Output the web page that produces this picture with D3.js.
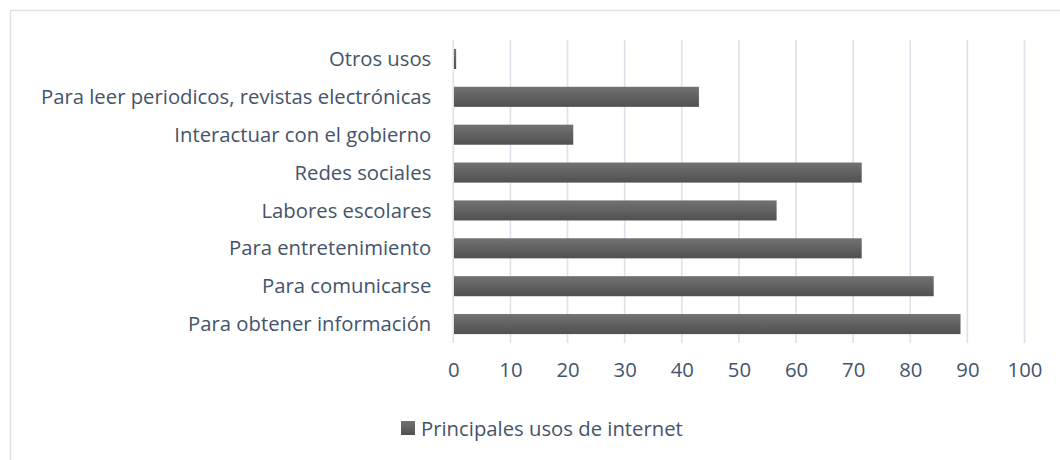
<!DOCTYPE html>
<html>
<head>
<meta charset="utf-8">
<script src="https://cdn.jsdelivr.net/npm/d3@7"></script>
<style>
  html, body { margin: 0; padding: 0; background: #fff; }
  svg { display: block; }
  text { font-family: "Open Sans", "Noto Sans", sans-serif; fill: #44546A; }
</style>
</head>
<body>
<svg id="chart" width="1060" height="460"></svg>
<script>
const categories = [
  "Otros usos",
  "Para leer periodicos, revistas electrónicas",
  "Interactuar con el gobierno",
  "Redes sociales",
  "Labores escolares",
  "Para entretenimiento",
  "Para comunicarse",
  "Para obtener información"
];
const values = [0.5, 43, 21, 71.5, 56.6, 71.5, 84.1, 88.8];
const tickValues = [0, 10, 20, 30, 40, 50, 60, 70, 80, 90, 100];
const seriesName = "Principales usos de internet";

const FONT_SIZE = "20.3px";
const svg = d3.select("#chart");

// outer border
svg.append("rect")
  .attr("x", 10.5).attr("y", 10.5)
  .attr("width", 1070).attr("height", 470)
  .attr("fill", "#fff").attr("stroke", "#dde1e8").attr("stroke-width", 1.5);

const defs = svg.append("defs");
const grad = defs.append("linearGradient")
  .attr("id", "barGrad").attr("x1", 0).attr("y1", 0).attr("x2", 0).attr("y2", 1);
grad.append("stop").attr("offset", "0%").attr("stop-color", "#727272");
grad.append("stop").attr("offset", "100%").attr("stop-color", "#505050");

const x = d3.scaleLinear().domain([0, 100]).range([453.3, 1024.5]);
const y = d3.scaleBand().domain(categories).range([40, 343]).paddingInner(0.47).paddingOuter(0.235);

// gridlines
svg.append("g")
  .selectAll("line")
  .data(tickValues)
  .join("line")
  .attr("x1", d => x(d)).attr("x2", d => x(d))
  .attr("y1", 40).attr("y2", 343)
  .attr("stroke", "#dde1e9").attr("stroke-width", 1.6);

// bars
svg.append("g")
  .selectAll("rect")
  .data(categories)
  .join("rect")
  .attr("x", x(0) + 0.7)
  .attr("y", d => y(d))
  .attr("width", (d, i) => Math.max(0, x(values[i]) - x(0) - 0.7))
  .attr("height", y.bandwidth())
  .attr("fill", "url(#barGrad)");

// category labels
svg.append("g")
  .selectAll("text")
  .data(categories)
  .join("text")
  .attr("x", x(0) - 22)
  .attr("y", d => y(d) + y.bandwidth() / 2)
  .attr("dy", "0.35em")
  .attr("text-anchor", "end")
  .style("font-size", FONT_SIZE)
  .text(d => d);

// x axis tick labels
const xAxis = d3.axisBottom(x).tickValues(tickValues).tickSize(0).tickPadding(0);
const gx = svg.append("g").attr("transform", "translate(0,363)").call(xAxis);
gx.select(".domain").remove();
gx.selectAll("text")
  .attr("fill", "#44546A")
  .style("font-family", '"Open Sans", "Noto Sans", sans-serif')
  .style("font-size", FONT_SIZE);

// legend
const lg = svg.append("g");
lg.append("rect").attr("x", 401).attr("y", 421).attr("width", 14).attr("height", 14)
  .attr("fill", "url(#barGrad)");
lg.append("text").attr("x", 421).attr("y", 428.5).attr("dy", "0.35em")
  .style("font-size", FONT_SIZE).text(seriesName);
</script>
</body>
</html>
